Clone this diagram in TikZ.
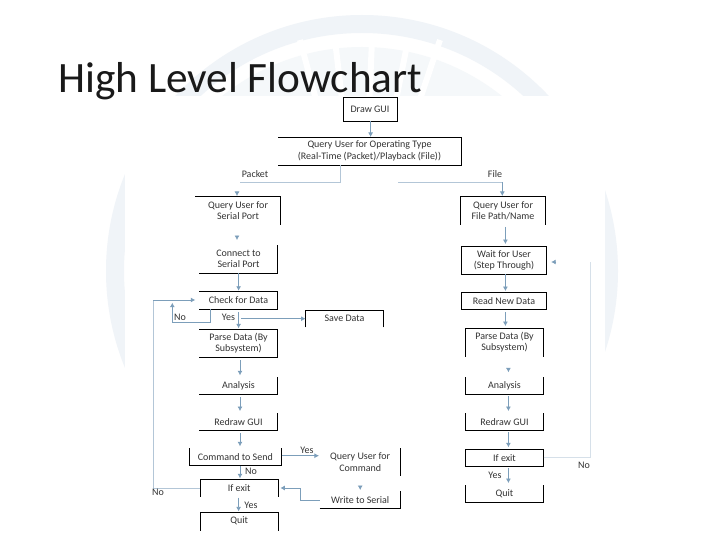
\documentclass[tikz,border=0pt]{standalone}
\usepackage{fontspec}
\setmainfont{Carlito}
\usetikzlibrary{arrows.meta}
\definecolor{wmark}{HTML}{F0F4F8}
\definecolor{wmarkb}{HTML}{F5F8FA}
\definecolor{connblue}{HTML}{7C9EBA}
\definecolor{connpale}{HTML}{B3C6D7}
\definecolor{connfaint}{HTML}{D6E0E9}
\tikzset{
  x=1pt,y=-1pt,
  fc/.style args={#1x#2}{minimum width=#1pt,minimum height=#2pt,inner sep=0pt,outer sep=0pt,
     align=center,font=\fontsize{10}{11.3}\selectfont,text=black!80},
  lbl/.style={inner sep=0pt,outer sep=0pt,font=\fontsize{10}{11.3}\selectfont,text=black!80},
  edge/.style={draw=black,line width=0.9pt,line cap=rect,line join=miter},
  conn/.style={draw=connblue,line width=0.8pt,-{Latex[length=4.5pt,width=5pt]}},
  plain/.style={draw=connblue,line width=0.8pt},
  palecn/.style={draw=connpale,line width=0.8pt},
}
\begin{document}
\begin{tikzpicture}
\useasboundingbox (0,0) rectangle (720,540);
\fill[white] (0,0) rectangle (720,540);
% watermark
\coordinate (wc) at (362,271);
\fill[wmark,even odd rule] (wc) circle[radius=256pt] (wc) circle[radius=238pt];
\fill[wmarkb,even odd rule] (wc) circle[radius=224pt] (wc) circle[radius=170pt];
\foreach \wx in {300,335,372,408,440}{
  \draw[white,line width=6pt] (wc) -- (\wx,40);
}
\fill[white] (125,96) rectangle (605,540);
% title
\node[anchor=base west,inner sep=0pt,font=\fontsize{43.3}{46}\selectfont,text=black!90] (title) at (58,93) {High Level Flowchart};

% left and centre column
\node[fc=54x24] (gui) at (370,109) {Draw GUI};
\node[fc=183x28] (qt) at (369.5,151) {Query User for Operating Type\\(Real-Time (Packet)/Playback (File))};
\node[fc=85.5x29] (qs) at (238,210.5) {Query User for\\Serial Port};
\node[fc=78.5x28] (cs) at (238.5,259) {Connect to\\Serial Port};
\node[fc=78.5x17.5] (cd) at (238.5,300.5) {Check for Data};
\node[fc=78x17] (sd) at (344.5,318.5) {Save Data};
\node[fc=78.5x28] (pl) at (238.5,343.3) {Parse Data (By\\Subsystem)};
\node[fc=78.5x17] (al) at (238.5,385.8) {Analysis};
\node[fc=78.5x17.3] (rl) at (238.5,421.7) {Redraw GUI};
\node[fc=92.5x17.4] (cm) at (235.3,457) {Command to Send};
\node[fc=78.3x17.4] (xl) at (239.2,488) {If exit};
\node[fc=78.3x17.7] (ql) at (239.2,521.2) {Quit};
\node[fc=80.5x27.7] (qc) at (360.2,462) {Query User for\\Command};
\node[fc=80.5x17.3] (ws) at (360.2,499.7) {Write to Serial};
% right column
\node[fc=85.4x29] (qf) at (503,210.5) {Query User for\\File Path/Name};
\node[fc=85.4x28.3] (wu) at (504,260.2) {Wait for User\\(Step Through)};
\node[fc=85.4x17.3] (rd) at (504,300.7) {Read New Data};
\node[fc=78.4x28.7] (pr) at (504.5,342.4) {Parse Data (By\\Subsystem)};
\node[fc=78.4x17] (ar) at (504.5,385.8) {Analysis};
\node[fc=78.4x17.3] (rr) at (504.5,421.7) {Redraw GUI};
\node[fc=78.4x17] (xr) at (504.5,457.8) {If exit};
\node[fc=78.4x17.3] (qr) at (504.5,493.7) {Quit};

% box outlines (as far as they are visible)
\draw[edge] (gui.north west) rectangle (gui.south east);
\draw[edge] (qt.north west) -- (qt.north east) -- (qt.south east) -- (qt.south west);
\draw[edge] (qs.north west) -- (qs.north east) -- (qs.south east);
\draw[edge] (cs.north east) -- (cs.south east) -- (cs.south west);
\draw[edge] (cd.north west) -- (cd.north east) -- (cd.south east) -- (cd.south west);
\draw[edge] (sd.south west) -- (sd.north west) -- (sd.north east) -- (sd.south east);
\draw[edge] (pl.north west) -- (pl.north east) -- (pl.south east) -- (pl.south west);
\draw[edge] (al.north east) -- (al.south east) -- (al.south west);
\draw[edge] (rl.north east) -- (rl.south east) -- (rl.south west);
\draw[edge] (cm.north west) -- (cm.south west) -- (cm.south east) -- (cm.north east);
\draw[edge] (xl.south west) -- (xl.north west) -- (xl.north east) -- (xl.south east);
\draw[edge] (ql.south west) -- (ql.north west) -- (ql.north east) -- (ql.south east);
\draw[edge] (qc.north east) -- (qc.south east);
\draw[edge] (ws.north east) -- (ws.south east) -- (ws.south west);
\draw[edge] (qf.south west) -- (qf.north west) -- (qf.north east) -- (qf.south east);
\draw[edge] (wu.north west) rectangle (wu.south east);
\draw[edge] (rd.north west) rectangle (rd.south east);
\draw[edge] (pr.south west) -- (pr.north west) -- (pr.north east) -- (pr.south east);
\draw[edge] (ar.north west) -- (ar.south west) -- (ar.south east) -- (ar.north east);
\draw[edge] (rr.north west) -- (rr.south west) -- (rr.south east) -- (rr.north east);
\draw[edge] (xr.north west) rectangle (xr.south east);
\draw[edge] (qr.north west) -- (qr.south west) -- (qr.south east) -- (qr.north east);

% guide columns and free ends
\coordinate (cg) at (370.6,0);
\coordinate (cp) at (340.7,182.3);
\coordinate (pe) at (240,182.3);
\coordinate (ph) at (237,0);
\coordinate (fe) at (398,182.3);
\coordinate (cf) at (502.3,182.3);
\coordinate (c1) at (238.6,0);
\coordinate (c2) at (240,0);
\coordinate (c3) at (505.4,0);
\coordinate (c4) at (508.4,0);
\coordinate (nr) at (210,322.7);
\coordinate (nl) at (172.3,322.7);
\coordinate (ol) at (153.3,300);
\coordinate (rl1) at (590.5,262);
\coordinate (rh) at (556,262);
\coordinate (ys) at (241,318.7);
\coordinate (wb) at (300.3,500.3);

% connectors
\draw[conn] (gui.south -| cg) -- (qt.north -| cg);
\draw[palecn] (qt.south -| cp) |- (pe);
\draw[conn,shorten <=9.5pt] (pe -| ph) -- (qs.north -| ph);
\draw[palecn] (fe) -- (cf);
\draw[conn] (cf) -- (qf.north -| cf);
\draw[conn,shorten <=10.5pt,shorten >=5pt] (qs.south -| ph) -- (cs.north -| ph);
\draw[conn,shorten >=1pt] (cs.south -| c1) -- (cd.north -| c1);
\draw[conn,shorten <=3pt,shorten >=1pt] (cd.south -| c1) -- (pl.north -| c1);
\draw[conn] (ys) -- (sd.west |- ys);
\draw[conn,shorten <=3pt,shorten >=2pt] (pl.south -| c2) -- (al.north -| c2);
\draw[conn,shorten <=3pt,shorten >=2pt] (al.south -| c2) -- (rl.north -| c2);
\draw[conn,shorten <=3pt,shorten >=2pt] (rl.south -| c2) -- (cm.north -| c2);
\draw[conn,shorten >=1pt] (cm.south -| c2) -- (xl.north -| c2);
\draw[conn,shorten <=1pt,shorten >=1pt] (xl.south -| c1) -- (ql.north -| c1);
\draw[conn,shorten >=1pt] (cm.east |- 0,455.7) -- (qc.west |- 0,455.7);
\draw[conn,shorten <=10.5pt,shorten >=1pt] (qc.south -| ws.north) -- (ws.north);
\draw[conn,shorten >=2pt] (ws.west |- wb) -- (wb) |- (xl.east);
% check-for-data No loop
\draw[conn] (cd.south -| nr) -- (nr) -- (nl) -- ++(0,-20);
% outer No loop
\draw[palecn] (xl.west) -- (ol |- xl.west) -- (ol);
\draw[conn,shorten >=4pt] (ol) -- (cd.west |- ol);
% right column connectors
\draw[conn,shorten <=2pt,shorten >=2pt] (qf.south -| c3) -- (wu.north -| c3);
\draw[conn,shorten >=1pt] (wu.south -| c3) -- (rd.north -| c3);
\draw[conn,shorten <=3pt,shorten >=2pt] (rd.south -| c3) -- (pr.north -| c3);
\draw[conn,shorten <=12.5pt,shorten >=5pt] (pr.south -| c4) -- (ar.north -| c4);
\draw[conn,shorten <=2pt,shorten >=2pt] (ar.south -| c4) -- (rr.north -| c4);
\draw[conn,shorten <=2pt,shorten >=2pt] (rr.south -| c4) -- (xr.north -| c4);
\draw[conn,shorten <=2pt,shorten >=2pt] (xr.south -| c4) -- (qr.north -| c4);
\draw[draw=connfaint,line width=0.8pt] (xr.east) -- (rl1 |- xr.east) -- (rl1);
\draw[conn,shorten >=4.5pt] (rh) -- (wu.east |- rh);

% labels
\node[lbl] (lpk) at (255,174) {Packet};
\node[lbl] (lfl) at (495,174) {File};
\node[lbl] (lno1) at (180,317.5) {No};
\node[lbl] (lys1) at (228.5,317) {Yes};
\node[lbl] (lys2) at (307,450) {Yes};
\node[lbl] (lno2) at (251,471.5) {No};
\node[lbl] (lno3) at (158,492) {No};
\node[lbl] (lys3) at (251,505) {Yes};
\node[lbl] (lno4) at (584,465) {No};
\node[lbl] (lys4) at (495,475) {Yes};
\end{tikzpicture}
\end{document}
